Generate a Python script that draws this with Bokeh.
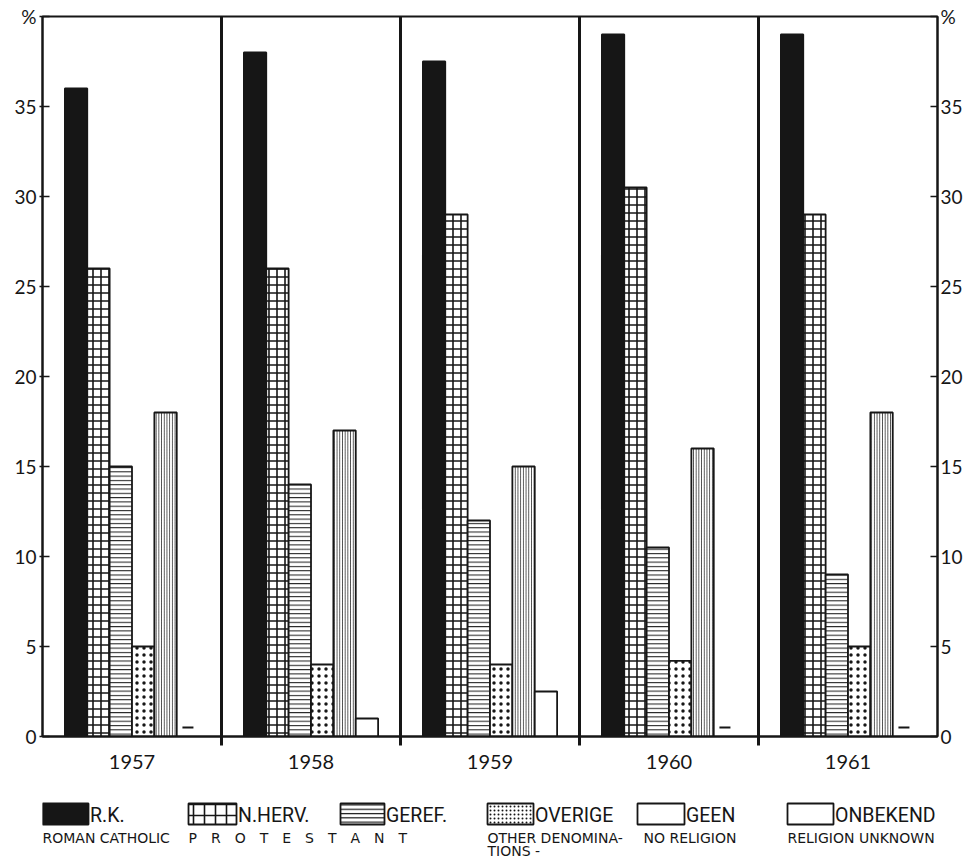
from bokeh.plotting import figure
from bokeh.models import Range1d, FixedTicker, LinearAxis
from bokeh.layouts import column
from bokeh.embed import file_html
from bokeh.resources import INLINE
from bokeh.core.properties import value

# ---------------- data ----------------
years = ["1957", "1958", "1959", "1960", "1961"]
rk = [36, 38, 37.5, 39, 39]
nherv = [26, 26, 29, 30.5, 29]
geref = [15, 14, 12, 10.5, 9]
overige = [5, 4, 4, 4.2, 5]
geen = [18, 17, 15, 16, 18]
onbekend = [0.5, 1.0, 2.5, 0.5, 0.5]
y_ticks = [0, 5, 10, 15, 20, 25, 30, 35]
unit_label = "%"

legend_names = ["R.K.", "N.HERV.", "GEREF.", "OVERIGE", "GEEN", "ONBEKEND"]
legend_sub = ["ROMAN CATHOLIC",
              "\u2003".join("PROTESTANT"),
              "",
              "OTHER DENOMINA-",
              "NO RELIGION",
              "RELIGION UNKNOWN"]
legend_sub2 = ["", "", "", "TIONS -", "", ""]

series = [rk, nherv, geref, overige, geen, onbekend]

# ---------------- styles ----------------
BLACK = "#161616"
NUM_FONT = "Lato"
LEG_FONT = "Roboto"
SUB_FONT = "DejaVu Sans"

bar_styles = [
    dict(fill_color=BLACK),
    dict(fill_color="white", hatch_pattern="+", hatch_scale=8, hatch_weight=1.6, hatch_color=BLACK),
    dict(fill_color="white", hatch_pattern="-", hatch_scale=4.3, hatch_weight=1.0, hatch_color=BLACK),
    dict(fill_color="white", hatch_pattern=".", hatch_scale=7, hatch_weight=2.2, hatch_color=BLACK),
    dict(fill_color="white", hatch_pattern="|", hatch_scale=2.7, hatch_weight=0.8, hatch_color=BLACK),
    dict(fill_color="white"),
]
legend_styles = [
    dict(fill_color=BLACK),
    dict(fill_color="white", hatch_pattern="+", hatch_scale=11, hatch_weight=1.6, hatch_color=BLACK),
    dict(fill_color="white", hatch_pattern="-", hatch_scale=4.3, hatch_weight=1.2, hatch_color=BLACK),
    dict(fill_color="white", hatch_pattern=".", hatch_scale=4, hatch_weight=1.8, hatch_color=BLACK),
    dict(fill_color="white"),
    dict(fill_color="white"),
]

W = 972
H_MAIN = 776
H_LEG = 83
n = len(years)
n_ser = len(series)
bw = 1.0 / (n_ser + 2)          # bar width in panel units
ymax = 40
FRAME_L, FRAME_R = 42, 937      # frame edges in page pixels (legend shares them)

p = figure(width=W, height=H_MAIN, x_range=Range1d(0, n), y_range=Range1d(0, ymax),
           output_backend="svg", toolbar_location=None,
           min_border_left=FRAME_L, min_border_top=16, min_border_right=W - FRAME_R,
           min_border_bottom=40)
p.background_fill_color = "white"
p.border_fill_color = "white"
p.outline_line_color = BLACK
p.outline_line_width = 2
p.grid.visible = False

# x axis: year labels at panel centres, separator ticks at panel bounds
centres = [i + 0.5 for i in range(n)]
bounds = list(range(1, n))
xax = p.xaxis[0]
xax.ticker = FixedTicker(ticks=centres, minor_ticks=bounds)
xax.major_label_overrides = {c: y for c, y in zip(centres, years)}
xax.major_tick_line_color = None
xax.major_tick_out = 0
xax.major_tick_in = 0
xax.minor_tick_in = 0
xax.minor_tick_out = 9
xax.minor_tick_line_width = 3
xax.minor_tick_line_color = BLACK
xax.axis_line_width = 2
xax.axis_line_color = BLACK
xax.major_label_standoff = 9
xax.major_label_text_font = NUM_FONT
xax.major_label_text_font_size = "20px"
xax.major_label_text_color = BLACK

def style_y(ax, tin, tout):
    ax.ticker = FixedTicker(ticks=y_ticks + [ymax])
    ax.major_label_overrides = {ymax: unit_label}
    ax.major_tick_in = tin
    ax.major_tick_out = tout
    ax.major_tick_line_width = 1.6
    ax.major_tick_line_color = BLACK
    ax.minor_tick_line_color = None
    ax.axis_line_width = 2
    ax.axis_line_color = BLACK
    ax.major_label_text_font = NUM_FONT
    ax.major_label_text_font_size = "19px"
    ax.major_label_text_color = BLACK
    ax.major_label_standoff = 3

style_y(p.yaxis[0], 7, 3)
rax = LinearAxis()
style_y(rax, 7, 0)
p.add_layout(rax, "right")

# separators between years
p.segment(x0=bounds, y0=[0] * len(bounds), x1=bounds, y1=[ymax] * len(bounds),
          line_color=BLACK, line_width=3)

# bars
for i, (vals, st) in enumerate(zip(series, bar_styles)):
    xs = [j + bw + bw * (i + 0.5) for j in range(n)]
    if i == n_ser - 1:
        bx = [x for x, v in zip(xs, vals) if v >= 1]
        bv = [v for v in vals if v >= 1]
        dx = [x for x, v in zip(xs, vals) if v < 1]
        dv = [v for v in vals if v < 1]
        p.vbar(x=bx, top=bv, bottom=0, width=bw, line_color=BLACK, line_width=1.8, **st)
        p.dash(x=dx, y=dv, size=11, line_width=2.2, line_color=BLACK)
    else:
        p.vbar(x=xs, top=vals, bottom=0, width=bw, line_color=BLACK, line_width=1.8, **st)

# ---------------- legend figure (x in page pixels, frame aligned with main plot) ----------------
leg = figure(width=W, height=H_LEG, x_range=Range1d(FRAME_L, FRAME_R), y_range=Range1d(H_LEG, 0),
             output_backend="svg", toolbar_location=None,
             min_border_left=FRAME_L, min_border_right=W - FRAME_R,
             min_border_top=0, min_border_bottom=0, x_axis_type=None, y_axis_type=None)
leg.outline_line_color = None
leg.grid.visible = False
leg.background_fill_color = "white"
leg.border_fill_color = "white"

box_left = [42, 188, 340, 487, 637, 787]
box_w = [46, 48, 44, 46, 47, 46]
sub_left = [42, 188, 340, 487, 643, 787]
box_top, box_bot = 27, 48
sub_y, sub2_y = 61, 74

for i in range(len(legend_names)):
    l = box_left[i]
    r = l + box_w[i]
    leg.quad(left=[l], right=[r], top=[box_top], bottom=[box_bot], line_color=BLACK,
             line_width=1.8, **legend_styles[i])
    leg.text(x=[r + 1.5], y=[(box_top + box_bot) / 2 + 1], text=[legend_names[i]],
             text_font=value(LEG_FONT), text_font_size="19.5px", text_baseline="middle",
             text_align="left", text_color=BLACK)
    if legend_sub[i]:
        leg.text(x=[sub_left[i]], y=[sub_y], text=[legend_sub[i]], text_font=value(SUB_FONT),
                 text_font_size="14px", text_baseline="middle", text_align="left", text_color=BLACK)
    if legend_sub2[i]:
        leg.text(x=[sub_left[i]], y=[sub2_y], text=[legend_sub2[i]], text_font=value(SUB_FONT),
                 text_font_size="14px", text_baseline="middle", text_align="left", text_color=BLACK)

layout = column(p, leg, spacing=0)
open("out.html", "w").write(file_html(layout, INLINE))
